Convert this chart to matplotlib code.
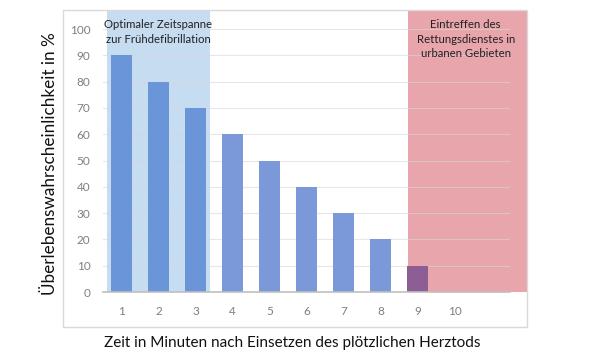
import matplotlib.pyplot as plt
from matplotlib.patches import Rectangle

minutes = [1, 2, 3, 4, 5, 6, 7, 8, 9, 10]
survival = [90, 80, 70, 60, 50, 40, 30, 20, 10, 0]
tick_labels = ['1', '2', '3', '4', '5', '6', '7', '8', '9', '10']
early_text = 'Optimaler Zeitspanne\nzur Frühdefibrillation'
ems_text = 'Eintreffen des\nRettungsdienstes in\nurbanen Gebieten'

plt.rcParams['font.family'] = ['Lato', 'DejaVu Sans']

fig = plt.figure(figsize=(5.96, 3.64), dpi=100)
# outer chart frame
fig.patches.append(Rectangle((0.1057, 0.1016), 0.7785, 0.871, transform=fig.transFigure,
                             fill=False, edgecolor='#d9d9d9', lw=1))
ax = fig.add_axes([0.1728, 0.1978, 0.683, 0.773])

ax.set_xlim(0.5, 11.5)
ax.set_ylim(0, 107)

ax.axvspan(0.6, 3.4, ymin=0, ymax=1, color='#c6dcf1', zorder=0.5, lw=0)
ax.add_patch(Rectangle((8.73, 0), 3.22, 107, color='#e8a5ab', zorder=0.5, lw=0, clip_on=False))

for y in range(10, 101, 10):
    ax.axhline(y, color='#d8d8d8', lw=0.8, alpha=0.6, zorder=1)

colors = ['#6a95d8'] * 3 + ['#7b98d8'] * 5 + ['#8c5e93', '#7b98d8']
ax.bar(minutes, survival, width=0.57, color=colors, zorder=2)

ax.set_xticks(minutes)
ax.set_xticklabels(tick_labels)
ax.set_yticks(range(0, 101, 10))
ax.tick_params(axis='both', length=0, colors='#7f7f7f', labelsize=8.5)
ax.tick_params(axis='x', pad=10)
ax.tick_params(axis='y', pad=9)

for s in ['top', 'right', 'left']:
    ax.spines[s].set_visible(False)
ax.spines['bottom'].set_color('#bfbfbf')
ax.spines['bottom'].set_linewidth(1.2)

ax.text(2.0, 103.8, early_text, ha='center', va='top', fontsize=8.2, color='#222222',
        linespacing=1.4, zorder=3)
ax.text(10.3, 103.8, ems_text, ha='center', va='top', fontsize=8.2, color='#222222',
        linespacing=1.4, zorder=3, clip_on=False)

fig.text(0.084, 0.55, 'Überlebenswahrscheinlichkeit in %', rotation=90, ha='center', va='center',
         fontsize=12.3, color='#111111')
fig.text(0.49, 0.057, 'Zeit in Minuten nach Einsetzen des plötzlichen Herztods', ha='center',
         va='center', fontsize=11, color='#111111')

fig.savefig('out.png', dpi=100)
